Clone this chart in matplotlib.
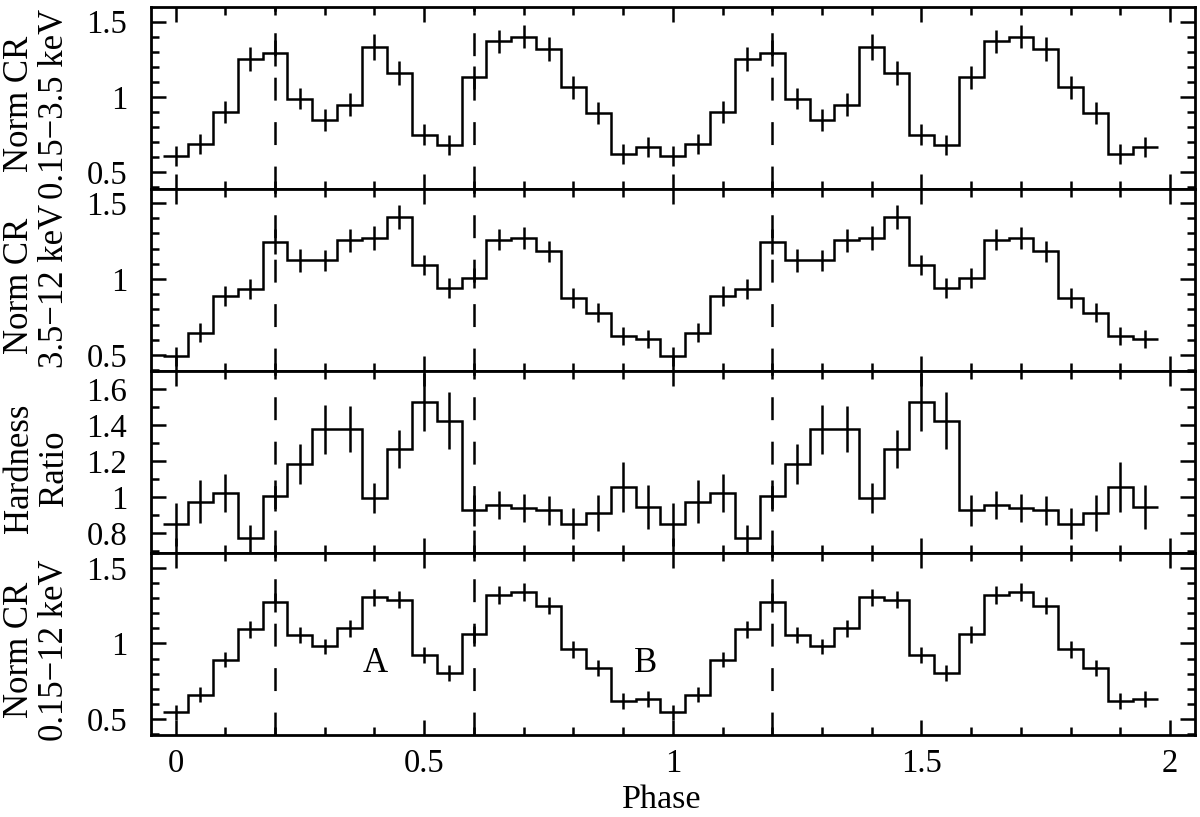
import numpy as np
import matplotlib
matplotlib.use("Agg")
import matplotlib.pyplot as plt
from matplotlib.ticker import MultipleLocator, FuncFormatter

plt.rcParams['font.family'] = ['Liberation Serif', 'DejaVu Serif']
plt.rcParams['mathtext.fontset'] = 'stix'

# ---- data: one phase cycle (20 bins, width 0.05), plotted twice ----
bin_width = 0.05
cycle_centers = np.arange(20) * bin_width

soft_cr = [0.61, 0.69, 0.90, 1.25, 1.29, 0.99, 0.85, 0.95, 1.33, 1.16,
           0.75, 0.68, 1.13, 1.37, 1.40, 1.32, 1.065, 0.895, 0.62, 0.67]
soft_err = [0.066, 0.066, 0.075, 0.08, 0.085, 0.07, 0.073, 0.077, 0.086, 0.077,
            0.07, 0.066, 0.075, 0.077, 0.077, 0.08, 0.077, 0.073, 0.066, 0.066]

hard_cr = [0.49, 0.647, 0.885, 0.934, 1.247, 1.124, 1.124, 1.254, 1.27, 1.408,
           1.095, 0.94, 1.004, 1.26, 1.27, 1.183, 0.874, 0.779, 0.625, 0.603]
hard_err = [0.06, 0.062, 0.066, 0.068, 0.08, 0.075, 0.07, 0.075, 0.077, 0.077,
            0.066, 0.064, 0.066, 0.072, 0.072, 0.07, 0.066, 0.064, 0.06, 0.058]

hr = [0.849, 0.974, 1.024, 0.772, 1.009, 1.184, 1.378, 1.378, 0.994, 1.267,
      1.527, 1.425, 0.926, 0.956, 0.941, 0.928, 0.853, 0.91, 1.057, 0.945]
hr_err = [0.12, 0.12, 0.104, 0.074, 0.086, 0.11, 0.136, 0.13, 0.083, 0.103,
          0.16, 0.16, 0.086, 0.08, 0.077, 0.08, 0.087, 0.1, 0.14, 0.123]

total_cr = [0.543, 0.661, 0.893, 1.094, 1.272, 1.056, 0.982, 1.10, 1.305, 1.29,
            0.922, 0.804, 1.06, 1.323, 1.34, 1.25, 0.962, 0.837, 0.617, 0.633]
total_err = [0.05, 0.05, 0.052, 0.058, 0.065, 0.053, 0.05, 0.056, 0.058, 0.058,
             0.053, 0.05, 0.055, 0.058, 0.061, 0.056, 0.056, 0.053, 0.052, 0.051]

n_cycles = 2
ylabels = ["Norm CR\n0.15\u22123.5 keV", "Norm CR\n3.5\u221212 keV",
           "Hardness\nRatio", "Norm CR\n0.15\u221212 keV"]
ylims = [(0.39, 1.597), (0.394, 1.593), (0.69, 1.70), (0.393, 1.60)]
ymajor = [0.5, 0.5, 0.2, 0.5]
dashed_phases = [0.2, 0.6, 1.2]
labels_AB = [("A", 0.402, 0.867), ("B", 0.946, 0.867)]

series = [(soft_cr, soft_err), (hard_cr, hard_err), (hr, hr_err), (total_cr, total_err)]

# ---- figure ----
W, H = 1200, 817
fig = plt.figure(figsize=(W / 100, H / 100), dpi=100)
axes = fig.subplots(4, 1, sharex=True, gridspec_kw=dict(hspace=0))
fig.subplots_adjust(left=150.7 / W, right=1195 / W, top=1 - 7 / H, bottom=1 - 735 / H)

lw = 1.8
phase = np.concatenate([cycle_centers + k for k in range(n_cycles)])
edges = np.append(phase - bin_width / 2, phase[-1] + bin_width / 2)
fmt = FuncFormatter(lambda v, p: ("%g" % round(v, 3)))

for i, (ax, (vals, errs)) in enumerate(zip(axes, series)):
    v = np.tile(vals, n_cycles)
    e = np.tile(errs, n_cycles)
    ax.stairs(v, edges, color='black', lw=lw, baseline=None)
    ax.errorbar(phase, v, yerr=e, fmt='none', ecolor='black', elinewidth=lw, capsize=0)
    for xd in dashed_phases:
        ax.axvline(xd, color='black', lw=lw, linestyle=(0, (16.5 / lw, 15.5 / lw)))
    ax.set_xlim(-0.05, 2.05)
    ax.set_ylim(*ylims[i])
    ax.yaxis.set_major_locator(MultipleLocator(ymajor[i]))
    ax.yaxis.set_minor_locator(MultipleLocator(0.1))
    ax.yaxis.set_major_formatter(fmt)
    ax.xaxis.set_major_locator(MultipleLocator(0.5))
    ax.xaxis.set_minor_locator(MultipleLocator(0.1))
    ax.xaxis.set_major_formatter(fmt)
    ax.tick_params(which='both', direction='in', top=True, right=True,
                   width=1.8, labelsize=23.5)
    ax.tick_params(which='major', length=10.5)
    ax.tick_params(which='minor', length=6)
    ax.tick_params(axis='y', which='both', pad=17)
    ax.tick_params(axis='x', which='both', pad=10)
    for s in ax.spines.values():
        s.set_linewidth(2.0)
    pos = ax.get_position()
    yc = (pos.y0 + pos.y1) / 2 - 6 / H
    fig.text(37 / W, yc, ylabels[i], rotation=90, ha='center', va='center',
             fontsize=25, linespacing=1.08)

for t, xa, ya in labels_AB:
    axes[3].text(xa, ya, t, ha='center', va='center', fontsize=25)

fig.text(662 / W, 1 - 808 / H, "Phase", ha='center', va='baseline', fontsize=24.5)

fig.savefig("out.png", dpi=100)
